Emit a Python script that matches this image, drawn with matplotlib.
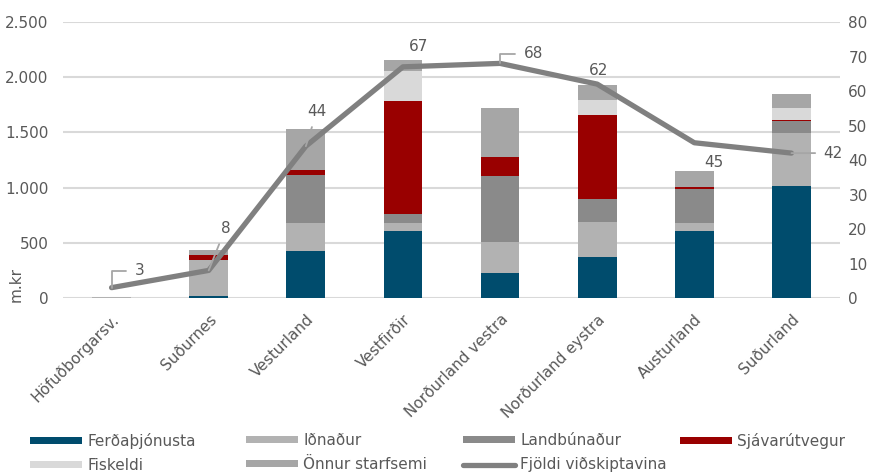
import matplotlib.pyplot as plt
from matplotlib.ticker import FuncFormatter
import numpy as np

plt.rcParams['font.family'] = ['DejaVu Sans']

regions = ['Höfuðborgarsv.', 'Suðurnes', 'Vesturland', 'Vestfirðir',
           'Norðurland vestra', 'Norðurland eystra', 'Austurland', 'Suðurland']

# m.kr per sector
ferdathjonusta = [0, 20, 426, 608, 227, 369, 608, 1013]
idnadur = [12, 320, 254, 73, 278, 317, 70, 481]
landbunadur = [0, 0, 435, 79, 599, 212, 305, 112]
sjavarutvegur = [0, 45, 42, 1028, 169, 759, 21, 9]
fiskeldi = [0, 0, 0, 269, 0, 136, 0, 103]
onnur = [0, 54, 372, 97, 450, 136, 142, 127]

# number of customers
fjoldi = [3, 8, 44, 67, 68, 62, 45, 42]

series = [
    ('Ferðaþjónusta', ferdathjonusta, '#004c6d'),
    ('Iðnaður', idnadur, '#b2b2b2'),
    ('Landbúnaður', landbunadur, '#8a8a8a'),
    ('Sjávarútvegur', sjavarutvegur, '#990000'),
    ('Fiskeldi', fiskeldi, '#d9d9d9'),
    ('Önnur starfsemi', onnur, '#a6a6a6'),
]

txt = '#595959'
fs = 11
fig = plt.figure(figsize=(8.73, 4.73), dpi=100)
ax = fig.add_axes([63/873, 175/473, 777/873, 276/473])
x = np.arange(len(regions))

bottom = np.zeros(len(regions))
handles = {}
for name, vals, col in series:
    b = ax.bar(x, vals, 0.4, bottom=bottom, color=col, label=name, zorder=2)
    handles[name] = b
    bottom += np.array(vals)

ax.set_ylim(0, 2500)
ax.set_xlim(-0.5, len(regions) - 0.5)
ax.set_yticks(np.arange(0, 2501, 500))
ax.yaxis.set_major_formatter(FuncFormatter(lambda v, p: f'{int(v):,}'.replace(',', '.')))
ax.grid(axis='y', color='#d9d9d9', linewidth=1.5, zorder=0)
ax.set_axisbelow(True)
for s in ax.spines.values():
    s.set_visible(False)
ax.tick_params(axis='both', length=0, colors=txt, labelsize=fs)
ax.tick_params(axis='y', pad=10.5)
ax.tick_params(axis='x', pad=10)
ax.set_xticks(x)
ax.set_xticklabels(regions, rotation=45, ha='right', rotation_mode='anchor')
fig.text(16/873, 1 - 284/473, 'm.kr', rotation=90, color=txt, fontsize=fs,
         ha='center', va='center')

ax2 = ax.twinx()
ax2.set_ylim(0, 80)
ax2.set_yticks(np.arange(0, 81, 10))
for s in ax2.spines.values():
    s.set_visible(False)
ax2.tick_params(axis='y', length=0, colors=txt, labelsize=fs, pad=6)
line, = ax2.plot(x, fjoldi, color='#808080', linewidth=3.8, solid_capstyle='round',
                 solid_joinstyle='round', zorder=3, label='Fjöldi viðskiptavina')

# label offsets in points, and leader style (None = no leader)
elbow = 'angle,angleA=0,angleB=90,rad=0'
offsets = [(20, 12, elbow), (12, 30, 'arc3'), (8, 25, 'arc3'), (11, 15, None),
           (24, 7, elbow), (1, 10, None), (14, -14, None), (30, 0, 'arc3')]
for xi, v, (dx, dy, cs) in zip(x, fjoldi, offsets):
    kw = {}
    if cs:
        kw['arrowprops'] = dict(arrowstyle='-', color='#a6a6a6', lw=1.3,
                                shrinkA=4, shrinkB=0, connectionstyle=cs)
    ax2.annotate(str(v), (xi, v), xytext=(dx, dy), textcoords='offset points',
                 ha='center', va='center', color=txt, fontsize=fs, zorder=4, **kw)

# legend: one small legend per column, placed at fixed pixel positions
cols = [
    (30, [handles['Ferðaþjónusta'], handles['Fiskeldi']], ['Ferðaþjónusta', 'Fiskeldi']),
    (246, [handles['Iðnaður'], handles['Önnur starfsemi']], ['Iðnaður', 'Önnur starfsemi']),
    (463, [handles['Landbúnaður'], line], ['Landbúnaður', 'Fjöldi viðskiptavina']),
    (680, [handles['Sjávarútvegur']], ['Sjávarútvegur']),
]
for px, hs, ls in cols:
    leg = fig.legend(hs, ls, loc='upper left', bbox_to_anchor=(px/873, 1 - 433/473),
                     frameon=False, fontsize=fs, handlelength=3.4, handleheight=0.35,
                     handletextpad=0.35, labelspacing=0.6, borderpad=0, borderaxespad=0)
    for t in leg.get_texts():
        t.set_color(txt)

fig.savefig('out.png', dpi=100)
